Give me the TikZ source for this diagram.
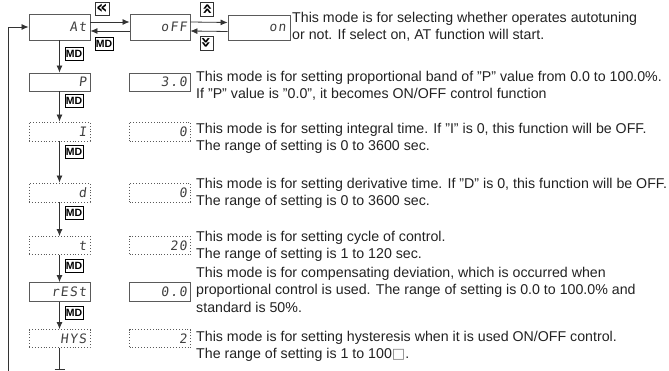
\documentclass[tikz,border=0pt]{standalone}
\usepackage{fontspec}
\setmainfont{Liberation Sans}
\newfontfamily\segfont[FakeSlant=0.12,LetterSpace=10]{DejaVu Sans Mono}
\newfontfamily\symfont{DejaVu Sans}
\usetikzlibrary{arrows.meta}
\definecolor{boxc}{HTML}{5A5A5A}
\definecolor{txt}{HTML}{222222}
\begin{document}
\begin{tikzpicture}[x=1pt,y=-1pt,
 disp/.style={draw=boxc, line width=0.9pt, minimum width=61pt, inner xsep=3pt, inner ysep=0pt, text width=54pt, align=right, font=\segfont\fontsize{13}{13}\selectfont, text=black!75},
 ddisp/.style={disp, dotted},
 md/.style={draw=black, line width=0.8pt, fill=white, inner sep=0pt, font=\bfseries\fontsize{10.5}{11}\selectfont, minimum width=18pt, minimum height=13pt},
 btn/.style={draw=black!80, line width=0.8pt, fill=white, inner sep=0pt, minimum width=14pt, minimum height=13pt, font=\symfont\bfseries\fontsize{18}{18}\selectfont},
 arr/.style={-{Latex[length=7pt,width=6pt]}, draw=black!80, line width=0.8pt},
 ln/.style={draw=black!80, line width=0.8pt},
 desc/.style={anchor=north west, align=left, inner sep=0pt, font=\fontsize{14.2}{17.5}\selectfont, text=txt},
]
\useasboundingbox (0,0) rectangle (669,371);

% left column
\node[disp, minimum height=26pt] (at) at (59.5,27) {At};
\node[disp, minimum height=18pt] (p) at (59.5,82) {P};
\node[ddisp, minimum height=19pt] (i) at (59.5,131.5) {I};
\node[ddisp, minimum height=19pt] (d) at (59.5,192.5) {d};
\node[ddisp, minimum height=18pt] (t) at (59.5,245.5) {t};
\node[disp, minimum height=19pt] (rest) at (59.5,292) {rESt};
\node[ddisp, minimum height=18pt] (hys) at (59.5,338.5) {HYS};

% top row
\node[disp, minimum height=26pt, minimum width=60pt] (off) at (160,27) {oFF};
\node[disp, minimum height=25pt, minimum width=62pt] (on) at (259,27.5) {on};

% value column
\node[disp, minimum height=18pt] (vp) at (160,82) {3.0};
\node[ddisp, minimum height=19pt] (vi) at (160,131.5) {0};
\node[ddisp, minimum height=19pt] (vd) at (160,192.5) {0};
\node[ddisp, minimum height=18pt] (vt) at (160,245.5) {20};
\node[disp, minimum height=19pt] (vr) at (160,292) {0.0};
\node[ddisp, minimum height=18pt] (vh) at (160,338.5) {2};

% horizontal arrows top
\draw[arr] ([yshift=5pt]at.east) -- ([yshift=5pt]off.west);
\draw[arr] ([yshift=-4pt]off.west) -- ([yshift=-4pt]at.east);
\draw[arr] ([yshift=5pt]off.east) -- ([yshift=5pt]on.west);
\draw[arr] ([yshift=-4pt]on.west) -- ([yshift=-4pt]off.east);

\node[btn] (bl) at (102,8.5) {«};
\node[md] (mdt) at (104,44) {MD};
\node[btn, rotate=-90] (bu) at (207,9) {«};
\node[btn, rotate=90] (bd) at (207,43) {«};

% vertical arrows
\draw[arr] (at.south) -- (p.north);
\draw[arr] (p.south) -- (i.north);
\draw[arr] (i.south) -- (d.north);
\draw[arr] (d.south) -- (t.north);
\draw[arr] (t.south) -- (rest.north);
\draw[arr] (rest.south) -- (hys.north);

\node[md] (md1) at (74,54) {MD};
\node[md] (md2) at (74,101) {MD};
\node[md] (md3) at (74,152) {MD};
\node[md] (md4) at (74,213) {MD};
\node[md] (md5) at (74,266) {MD};
\node[md] (md6) at (74,313) {MD};

% loop back
\coordinate (lb) at (8,371);
\draw[arr] (lb) |- (at.west);
\coordinate (st) at (59.5,369);
\draw[ln] (hys.south) -- (st);
\draw[ln] ([xshift=-5pt]st) -- ([xshift=5pt]st);

% descriptions
\node[desc] (tat) at (292,11.7) {This mode is for selecting whether operates autotuning\\or not. If select on, AT function will start.};
\node[desc] (tp) at (196,70.7) {This mode is for setting proportional band of "P" value from 0.0 to 100.0\%.\\If "P" value is "0.0", it becomes ON/OFF control function};
\node[desc] (ti) at (196,122.7) {This mode is for setting integral time. If "I" is 0, this function will be OFF.\\The range of setting is 0 to 3600 sec.};
\node[desc] (td) at (196,177.7) {This mode is for setting derivative time. If "D" is 0, this function will be OFF.\\The range of setting is 0 to 3600 sec.};
\node[desc] (tt) at (196,230.7) {This mode is for setting cycle of control.\\The range of setting is 1 to 120 sec.};
\node[desc] (tr) at (196,266.7) {This mode is for compensating deviation, which is occurred when\\proportional control is used. The range of setting is 0.0 to 100.0\% and\\standard is 50\%.};
\node[desc] (th) at (196,330.7) {This mode is for setting hysteresis when it is used ON/OFF control.\\The range of setting is 1 to 100{\symfont\textcolor{gray}{□}}.};
\end{tikzpicture}
\end{document}
